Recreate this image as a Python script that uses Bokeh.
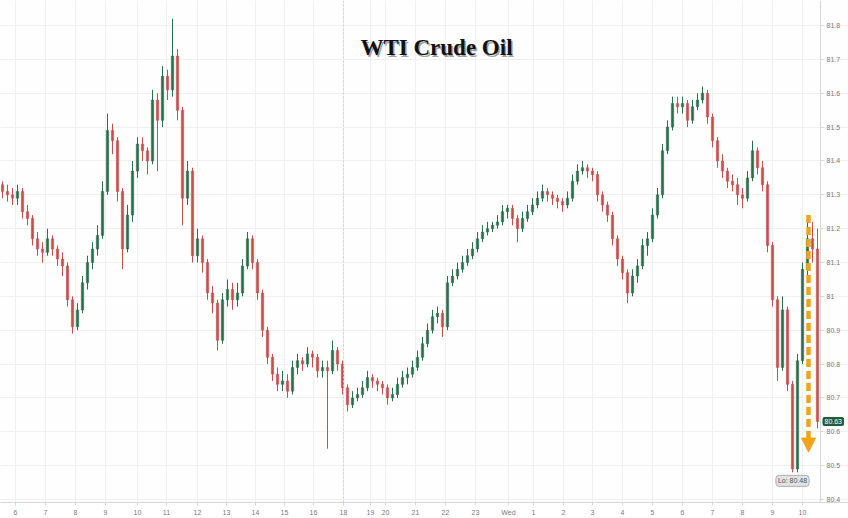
import numpy as np
from bokeh.plotting import figure
from bokeh.models import (ColumnDataSource, FixedTicker, CustomJSTickFormatter, Span,
                          Label, Arrow, NormalHead, LinearAxis, Grid)
from bokeh.embed import file_html
from bokeh.resources import INLINE

title_text = "WTI Crude Oil"
first_open = 81.33
closes = [
    81.31, 81.30, 81.29, 81.31, 81.25, 81.23, 81.17, 81.14, 81.13, 81.17,
    81.14, 81.11, 81.09, 80.99, 80.91, 80.96, 81.04, 81.10, 81.14, 81.18,
    81.31, 81.49, 81.46, 81.31, 81.14, 81.24, 81.37, 81.45, 81.43, 81.40,
    81.58, 81.52, 81.65, 81.61, 81.71, 81.55, 81.29, 81.37, 81.12, 81.17,
    81.10, 81.01, 80.98, 80.87, 80.99, 81.02, 80.99, 81.01, 81.09, 81.17,
    81.10, 81.01, 80.90, 80.82, 80.77, 80.74, 80.75, 80.72, 80.79, 80.81,
    80.80, 80.83, 80.82, 80.78, 80.79, 80.78, 80.84, 80.80, 80.73, 80.68,
    80.70, 80.71, 80.73, 80.76, 80.75, 80.74, 80.73, 80.70, 80.71, 80.74,
    80.76, 80.77, 80.79, 80.82, 80.86, 80.90, 80.94, 80.95, 80.91, 81.04,
    81.06, 81.08, 81.10, 81.12, 81.14, 81.17, 81.19, 81.20, 81.21, 81.22,
    81.25, 81.26, 81.23, 81.20, 81.23, 81.25, 81.27, 81.29, 81.31, 81.30,
    81.29, 81.28, 81.27, 81.29, 81.34, 81.37, 81.38, 81.37, 81.36, 81.30,
    81.27, 81.24, 81.17, 81.11, 81.07, 81.01, 81.06, 81.09, 81.15, 81.17,
    81.24, 81.30, 81.43, 81.50, 81.57, 81.56, 81.57, 81.52, 81.56, 81.58,
    81.60, 81.53, 81.46, 81.40, 81.37, 81.34, 81.33, 81.30, 81.29, 81.35,
    81.43, 81.38, 81.33, 81.15, 80.99, 80.79, 80.96, 80.74, 80.49, 80.81,
    81.08, 81.17, 81.14, 80.63,
]
highs = [
    81.34, 81.33, 81.32, 81.33, 81.32, 81.27, 81.24, 81.19, 81.16, 81.20,
    81.18, 81.15, 81.13, 81.10, 81.00, 80.98, 81.06, 81.12, 81.16, 81.21,
    81.34, 81.54, 81.51, 81.47, 81.32, 81.27, 81.40, 81.47, 81.47, 81.44,
    81.61, 81.60, 81.68, 81.67, 81.82, 81.73, 81.56, 81.40, 81.38, 81.20,
    81.18, 81.11, 81.03, 80.99, 81.01, 81.05, 81.04, 81.04, 81.11, 81.19,
    81.18, 81.11, 81.02, 80.91, 80.83, 80.79, 80.78, 80.77, 80.81, 80.83,
    80.82, 80.85, 80.84, 80.83, 80.81, 80.81, 80.87, 80.85, 80.81, 80.74,
    80.72, 80.73, 80.75, 80.78, 80.77, 80.76, 80.75, 80.74, 80.73, 80.76,
    80.78, 80.79, 80.81, 80.84, 80.88, 80.92, 80.96, 80.97, 80.96, 81.06,
    81.08, 81.10, 81.12, 81.14, 81.16, 81.19, 81.21, 81.22, 81.22, 81.24,
    81.27, 81.27, 81.27, 81.24, 81.25, 81.27, 81.29, 81.31, 81.33, 81.32,
    81.31, 81.30, 81.29, 81.31, 81.36, 81.39, 81.40, 81.39, 81.38, 81.37,
    81.31, 81.28, 81.25, 81.18, 81.12, 81.08, 81.08, 81.11, 81.17, 81.19,
    81.26, 81.32, 81.45, 81.52, 81.59, 81.59, 81.59, 81.58, 81.58, 81.60,
    81.62, 81.61, 81.54, 81.47, 81.42, 81.38, 81.36, 81.35, 81.32, 81.37,
    81.46, 81.44, 81.40, 81.34, 81.16, 81.00, 81.00, 80.97, 80.75, 80.83,
    81.10, 81.24, 81.22, 81.20,
]
lows = [
    81.29, 81.28, 81.27, 81.27, 81.23, 81.21, 81.15, 81.12, 81.10, 81.12,
    81.12, 81.09, 81.06, 80.97, 80.89, 80.90, 80.95, 81.02, 81.08, 81.12,
    81.17, 81.30, 81.42, 81.28, 81.08, 81.13, 81.22, 81.35, 81.40, 81.36,
    81.39, 81.37, 81.50, 81.58, 81.59, 81.52, 81.21, 81.27, 81.10, 81.10,
    81.07, 80.99, 80.95, 80.84, 80.86, 80.97, 80.96, 80.97, 81.00, 81.08,
    81.08, 80.99, 80.88, 80.80, 80.75, 80.72, 80.72, 80.70, 80.71, 80.77,
    80.78, 80.79, 80.79, 80.76, 80.76, 80.55, 80.77, 80.78, 80.71, 80.66,
    80.67, 80.69, 80.70, 80.72, 80.73, 80.72, 80.71, 80.68, 80.69, 80.70,
    80.73, 80.74, 80.76, 80.78, 80.81, 80.85, 80.89, 80.92, 80.88, 80.90,
    81.03, 81.05, 81.07, 81.09, 81.11, 81.13, 81.16, 81.18, 81.19, 81.20,
    81.21, 81.23, 81.21, 81.16, 81.19, 81.22, 81.24, 81.26, 81.28, 81.28,
    81.27, 81.26, 81.25, 81.26, 81.28, 81.33, 81.36, 81.35, 81.34, 81.28,
    81.25, 81.22, 81.15, 81.09, 81.05, 80.98, 81.00, 81.04, 81.08, 81.12,
    81.16, 81.23, 81.29, 81.42, 81.49, 81.54, 81.54, 81.50, 81.51, 81.55,
    81.57, 81.51, 81.44, 81.38, 81.35, 81.32, 81.31, 81.27, 81.26, 81.28,
    81.34, 81.36, 81.31, 81.13, 80.97, 80.75, 80.78, 80.72, 80.48, 80.48,
    80.80, 81.05, 81.10, 80.61,
]
tick_index = [2.6, 8.6, 14.6, 20.6, 27.0, 32.8, 39.0, 44.8, 50.6, 56.4, 62.2, 68.2,
              73.6, 76.6, 82.6, 88.6, 94.6, 101.2, 106.2, 112.2, 118.0, 124.0, 130.0,
              136.0, 142.0, 148.0, 154.0, 160.0]
tick_labels = ["6", "7", "8", "9", "10", "11", "12", "13", "14", "15", "16", "18",
               "19", "20", "21", "22", "23", "Wed", "1", "2", "3", "4", "5",
               "6", "7", "8", "9", "10"]
price_ticks = [80.4, 80.5, 80.6, 80.7, 80.8, 80.9, 81.0, 81.1, 81.2, 81.3, 81.4,
               81.5, 81.6, 81.7, 81.8]

UP = "#2b6e4d"
DOWN = "#c4504e"
ORANGE = "#f2a31b"

n = len(closes)
idx = np.arange(n)
opens = [first_open] + closes[:-1]
colors = [UP if c >= o else DOWN for o, c in zip(opens, closes)]
src = ColumnDataSource(dict(
    x=idx, open=opens, close=closes, high=highs, low=lows,
    top=[max(o, c) for o, c in zip(opens, closes)],
    bottom=[min(o, c) for o, c in zip(opens, closes)],
    color=colors,
))

axis_x = n - 0.4          # where the price axis sits (right edge of the data area)
p = figure(width=848, height=518, output_backend="svg", toolbar_location=None,
           x_range=(-0.4, n + 5.2), y_range=(80.391, 81.874),
           y_axis_location=None, min_border_left=0, min_border_top=0,
           min_border_right=0, min_border_bottom=0)
p.background_fill_color = "#fefefe"
p.border_fill_color = "#ffffff"
p.outline_line_color = None

# grids
p.xgrid.ticker = FixedTicker(ticks=tick_index)
p.xgrid.grid_line_color = "#f0f0f0"
p.add_layout(Grid(dimension=1, ticker=FixedTicker(ticks=price_ticks),
                  grid_line_color="#f0f0f0"))

# session break
brk = tick_index[tick_labels.index("18")]
p.add_layout(Span(location=brk, dimension="height", line_color="#cfcfcf",
                  line_dash="2 2", line_width=1))

p.segment(x0="x", y0="low", x1="x", y1="high", color="color", line_width=1, source=src)
p.vbar(x="x", top="top", bottom="bottom", width=0.48, fill_color="color",
       line_color="color", line_width=0.5, source=src)

# axes
p.xaxis.ticker = FixedTicker(ticks=tick_index)
p.xaxis.formatter = CustomJSTickFormatter(args=dict(tvals=tick_index, tlabels=tick_labels),
    code="const i = tvals.indexOf(tick); return i >= 0 ? tlabels[i] : '';")
yax = LinearAxis(fixed_location=axis_x, ticker=FixedTicker(ticks=price_ticks),
                 formatter=CustomJSTickFormatter(code="return (Math.round(tick*10)/10).toString();"))
p.add_layout(yax, "right")
for ax in (p.xaxis[0], yax):
    ax.major_label_text_font_size = "7px"
    ax.major_label_text_color = "#7a7a7a"
    ax.major_label_text_font = "Liberation Sans"
    ax.axis_line_color = "#d6d6d6"
    ax.major_tick_line_color = "#d6d6d6"
    ax.major_tick_out = 3
    ax.major_tick_in = 0
    ax.minor_tick_line_color = None
    ax.major_label_standoff = 3

# title with shadow
tx = 86.8
ty = 81.735
p.add_layout(Label(x=tx, y=ty, x_offset=1.5, y_offset=-2, text=title_text,
                   text_font="Liberation Serif", text_font_style="bold",
                   text_font_size="23px", text_color="#7a7a7a", text_alpha=0.7,
                   text_align="center", text_baseline="middle"))
p.add_layout(Label(x=tx, y=ty, text=title_text,
                   text_font="Liberation Serif", text_font_style="bold",
                   text_font_size="23px", text_color="#111111",
                   text_align="center", text_baseline="middle"))

# orange dashed arrow for the drop
ia = n - 2.8
p.add_layout(Arrow(x_start=ia, y_start=highs[n - 3], x_end=ia, y_end=lows[-1] - 0.07,
                   line_color=ORANGE, line_width=4.5, line_dash="8 4",
                   end=NormalHead(size=14, fill_color=ORANGE, line_color=ORANGE)))

# low label
i_lo = int(np.argmin(lows))
p.add_layout(Label(x=i_lo, y=lows[i_lo], y_offset=-3, text=f"Lo: {lows[i_lo]:.2f}",
                   text_font="Liberation Sans", text_font_size="7px", text_color="#555555",
                   text_align="center", text_baseline="top",
                   background_fill_color="#e2e2e2", border_line_color="#b0b0b0",
                   border_radius=3, padding=2))

# last price tag
p.add_layout(Label(x=axis_x, y=closes[-1], x_offset=2, text=f"{closes[-1]:.2f}",
                   text_font="Liberation Sans", text_font_size="7px", text_color="#ffffff",
                   text_align="left", text_baseline="middle",
                   background_fill_color="#1d5c3c", border_radius=2, padding=2))

open("out.html", "w").write(file_html(p, INLINE))
